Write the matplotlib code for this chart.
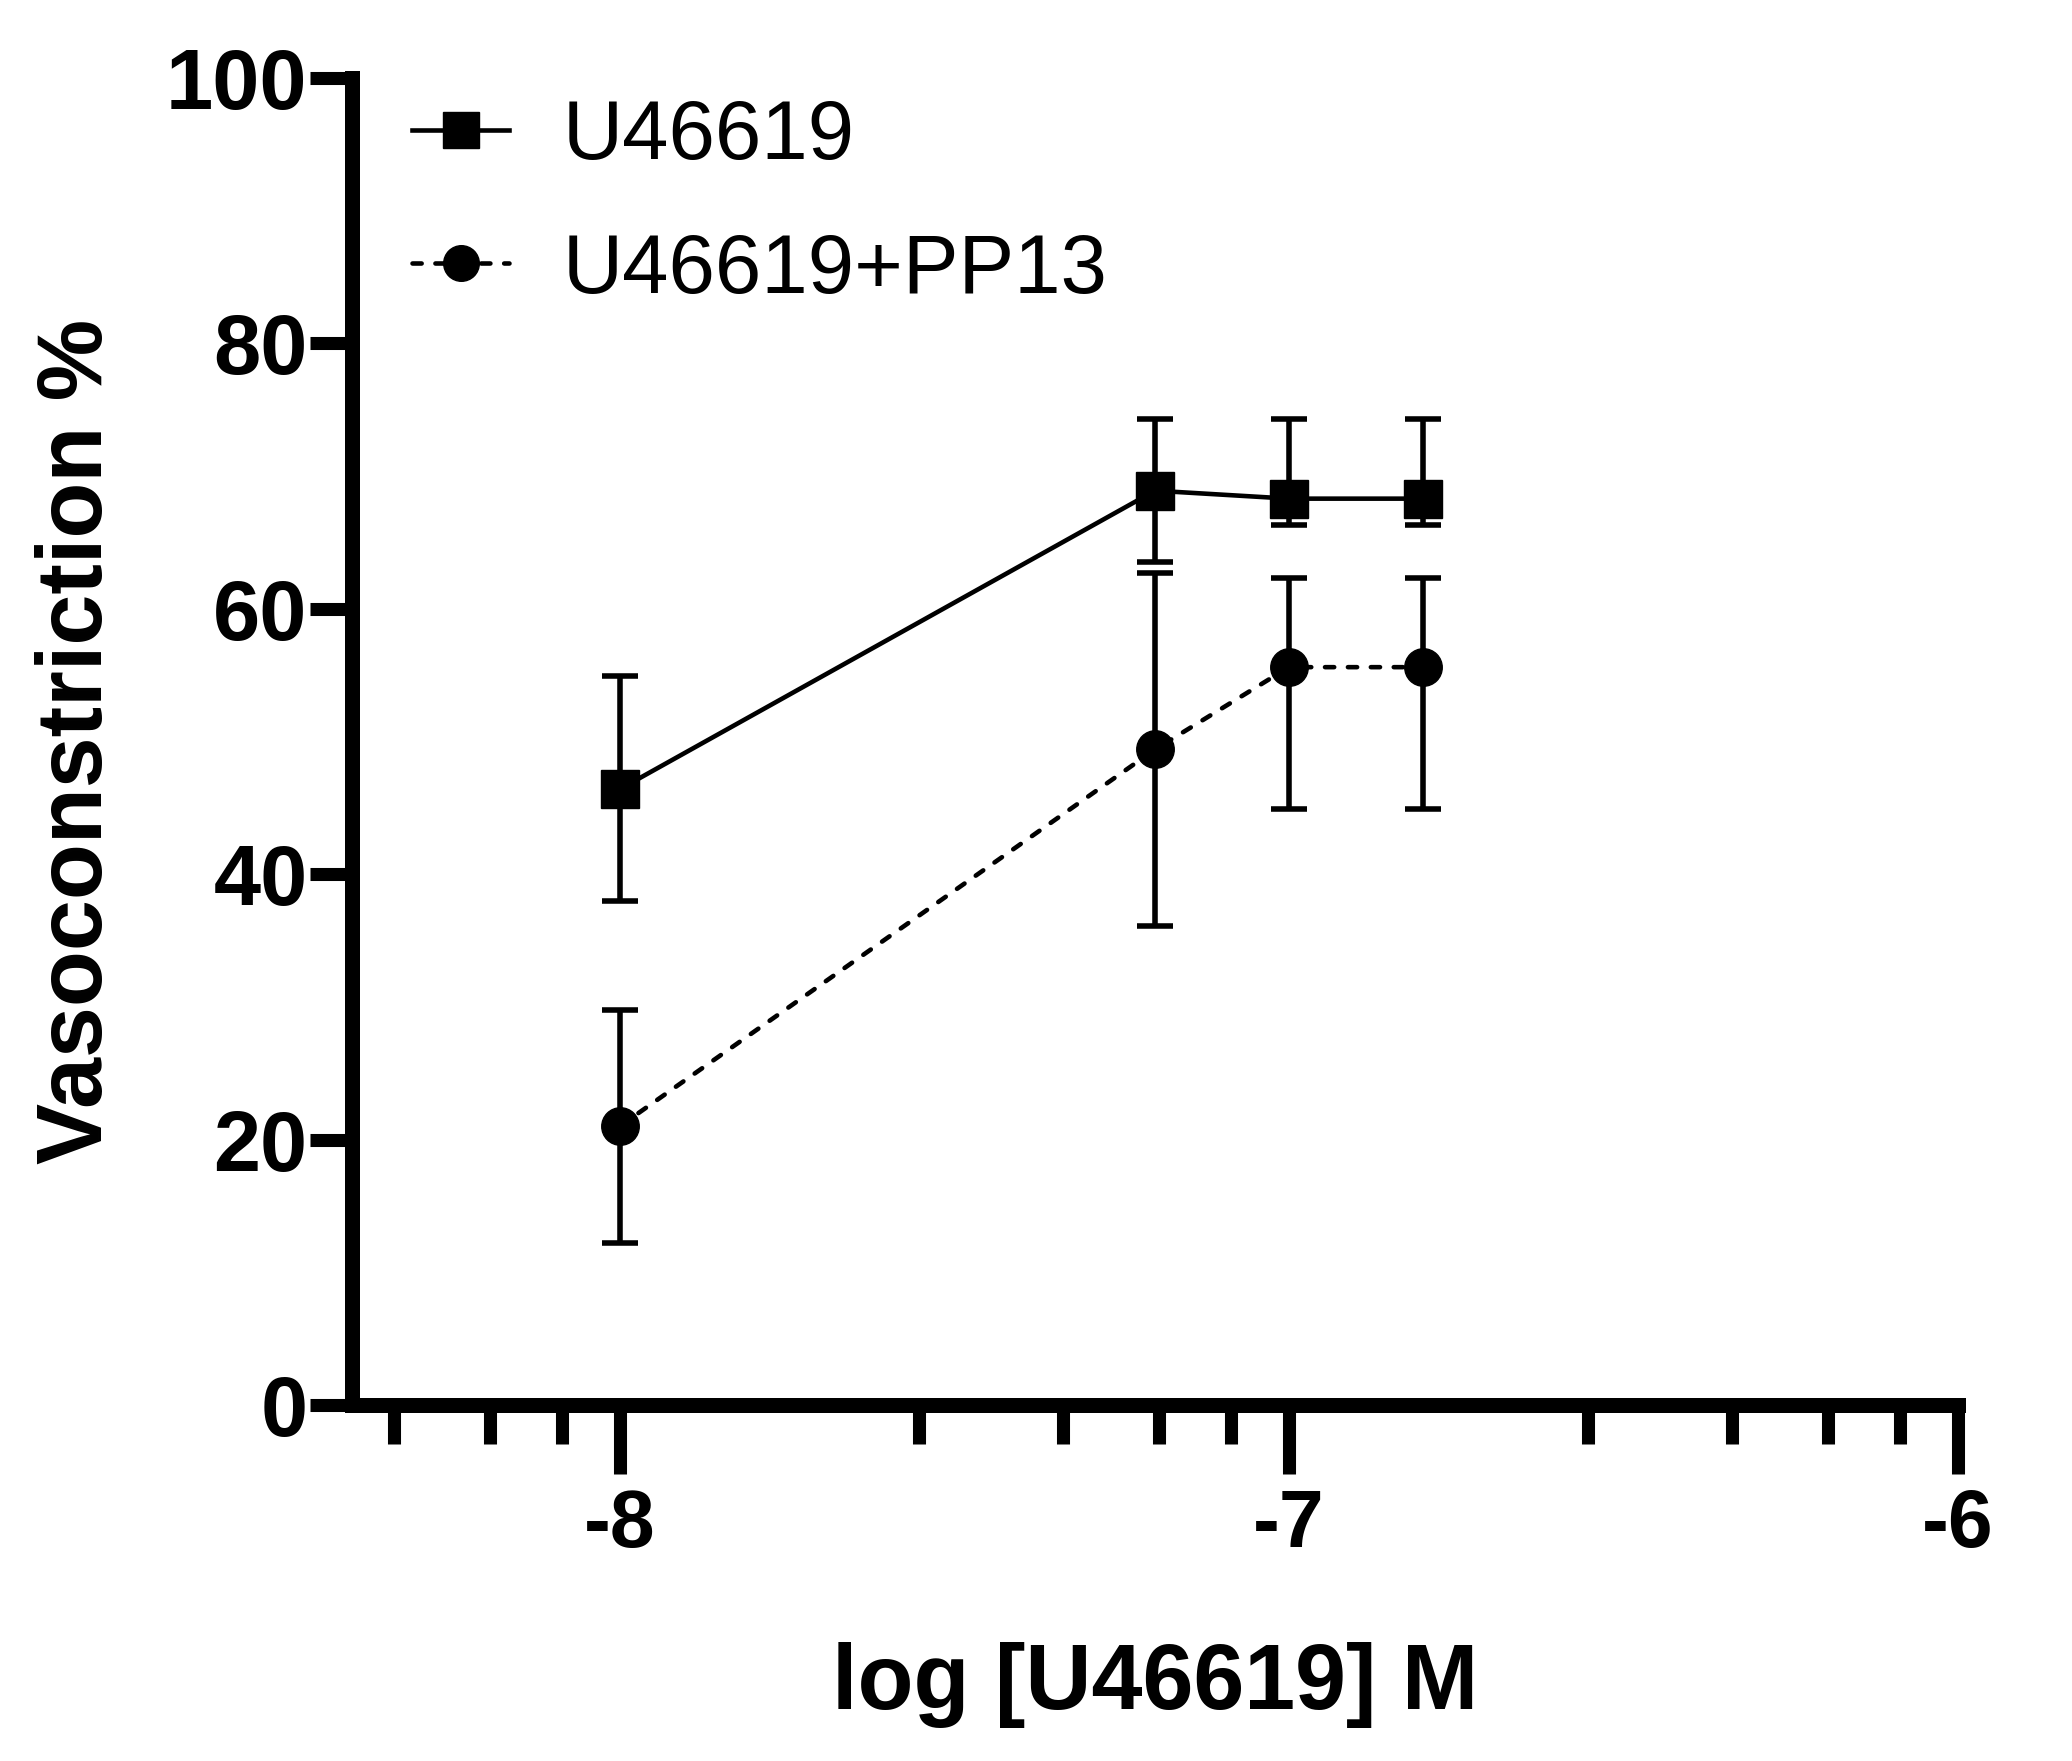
import numpy as np
import matplotlib.pyplot as plt

# data (log molar concentration vs % vasoconstriction)
x_log = [-8.0, -7.2, -7.0, -6.8]
u46619_mean = [46.4, 68.9, 68.3, 68.3]
u46619_err_lo = [8.4, 5.4, 2.0, 2.0]
u46619_err_hi = [8.5, 5.4, 6.0, 6.0]
pp13_mean = [21.0, 49.4, 55.6, 55.6]
pp13_err_lo = [8.8, 13.3, 10.7, 10.7]
pp13_err_hi = [8.8, 13.3, 6.7, 6.7]
series_names = ['U46619', 'U46619+PP13']
y_ticks = [0, 20, 40, 60, 80, 100]
x_ticks = [-8, -7, -6]
x_tick_labels = ['-8', '-7', '-6']

plt.rcParams['font.family'] = ['Liberation Sans', 'DejaVu Sans']

fig = plt.figure(figsize=(20.72, 17.61), dpi=100)
ax = fig.add_axes([0.1699, 0.2022, 0.7751, 0.7535])

# error bars first, markers + lines on top
ax.errorbar(x_log, u46619_mean, yerr=[u46619_err_lo, u46619_err_hi], fmt='none',
            ecolor='black', elinewidth=4.0, capsize=13, capthick=4.0, zorder=2)
ax.errorbar(x_log, pp13_mean, yerr=[pp13_err_lo, pp13_err_hi], fmt='none',
            ecolor='black', elinewidth=4.0, capsize=13, capthick=4.0, zorder=2)

l1, = ax.plot(x_log, u46619_mean, color='black', lw=3.3, marker='s', ms=27,
              mfc='black', mec='black', label=series_names[0], zorder=3)
l2, = ax.plot(x_log, pp13_mean, color='black', lw=3.3, marker='o', ms=27,
              mfc='black', mec='black', label=series_names[1], zorder=3,
              linestyle=(0, (2.0, 3.0)), dash_capstyle='round')

ax.set_xlim(-8.4, -6)
ax.set_ylim(0, 100)

# axes look (Prism style)
for s in ['top', 'right']:
    ax.spines[s].set_visible(False)
for s in ['left', 'bottom']:
    ax.spines[s].set_linewidth(10.8)

ax.set_yticks(y_ticks)
ax.set_yticklabels([str(v) for v in y_ticks])
ax.set_xticks(x_ticks)
ax.set_xticklabels(x_tick_labels)

# minor ticks: 4 evenly spaced (linear) values inside each decade
minor = []
for d in [-9, -8, -7]:
    for k in range(1, 5):
        v = d + np.log10(1 + 1.8 * k)
        if -8.4 < v < -6:
            minor.append(v)
ax.set_xticks(minor, minor=True)

ax.tick_params(axis='y', which='major', direction='out', length=30, width=9.4, pad=2,
               labelsize=61)
ax.tick_params(axis='x', which='major', direction='out', length=50, width=9.4, pad=10,
               labelsize=58)
ax.tick_params(axis='x', which='minor', direction='out', length=28, width=9.4)
for lab in ax.get_yticklabels():
    lab.set_fontweight('bold')
for lab in ax.get_xticklabels():
    lab.set_fontweight('bold')

ax.set_ylabel('Vasoconstriction %', fontsize=66, fontweight='bold')
ax.set_xlabel('log [U46619] M', fontsize=66, fontweight='bold', labelpad=56)
ax.yaxis.set_label_coords(-0.144, 0.5)

ax.legend(handles=[l1, l2], loc='upper left', bbox_to_anchor=(0.1988, 0.9445),
          bbox_transform=fig.transFigure, frameon=False, fontsize=60,
          handlelength=1.17, handletextpad=0.64, labelspacing=0.67,
          borderpad=0, borderaxespad=0, markerscale=0.95)

fig.savefig('out.png', dpi=100)
